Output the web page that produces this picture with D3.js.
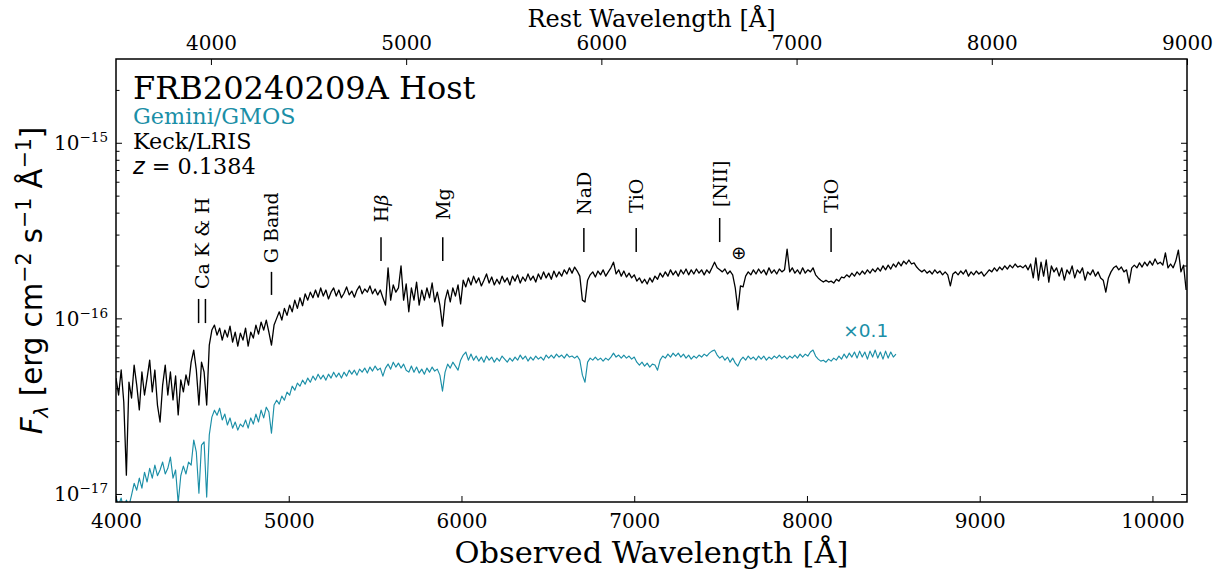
<!DOCTYPE html>
<html><head><meta charset="utf-8">
<script src="https://cdn.jsdelivr.net/npm/d3@7"></script>
<style>body{margin:0;background:#fff;} svg{display:block;}</style>
</head><body><svg id="chart" width="1219" height="570"></svg>
<script>
// ---------------- data ----------------
const z = 0.1384;
const keckStart = 4000, keckStep = 15;           // observed wavelength grid [Å]
// Keck/LRIS flux, units of 1e-17 erg cm^-2 s^-1 Å^-1
const keckFlux = [
4.57,3.66,5.08,3.34,1.28,4.34,3.52,5.42,4.17,3.01,
4.95,3.66,4.57,5.78,3.81,5.08,3.21,2.57,4.17,5.42,
3.66,4.95,3.43,4.70,2.82,4.46,3.81,4.76,4.17,5.63,
6.60,5.08,3.21,5.63,4.95,3.21,7.04,8.58,9.16,8.03,
8.80,7.52,8.58,7.82,9.04,7.33,8.35,6.95,8.24,7.52,
8.80,6.95,8.35,7.72,9.16,8.14,9.53,8.58,9.78,8.35,
7.04,9.16,10.0,10.9,9.78,11.4,10.4,11.9,10.9,12.7,
11.4,13.1,11.8,13.8,12.7,14.1,13.1,14.5,13.2,14.9,
13.4,14.5,12.9,14.1,14.9,13.4,14.5,13.1,13.9,15.1,
13.6,14.3,13.2,14.5,15.3,13.8,14.7,14.1,15.3,13.8,
14.7,13.6,14.5,13.1,11.9,19.4,12.7,15.5,14.1,14.9,
19.9,12.7,15.7,10.9,14.9,12.7,16.1,11.9,14.5,12.7,
14.9,13.1,15.9,12.4,14.1,11.9,9.04,12.7,14.5,12.4,
14.9,13.4,15.5,12.1,16.5,15.1,17.0,15.5,17.4,15.9,
17.0,15.3,16.5,17.9,15.9,17.2,15.5,16.7,15.7,17.4,
16.1,17.0,15.5,17.4,16.3,17.7,15.9,17.2,16.3,17.9,
16.5,17.4,16.1,17.9,16.7,18.4,17.0,18.1,16.7,18.6,
17.2,18.4,17.4,18.9,17.9,19.4,18.1,19.6,18.6,17.4,
12.7,12.4,16.5,17.7,18.4,17.2,18.6,17.7,18.9,17.4,
18.4,19.4,20.9,17.9,18.9,17.4,18.6,17.2,18.1,17.0,
17.7,16.3,17.0,15.9,16.7,15.7,17.0,16.1,17.4,16.7,
18.1,17.2,18.4,17.4,18.9,17.7,18.6,17.4,18.9,17.9,
19.1,17.7,18.9,17.9,19.1,18.1,18.9,17.7,18.9,18.1,
19.4,20.9,19.4,18.9,18.4,19.1,17.9,18.6,17.7,14.9,
11.2,15.3,15.1,17.4,18.4,17.7,18.9,17.9,19.1,18.1,
18.9,17.7,19.4,18.1,18.9,17.9,19.1,18.4,18.9,24.8,
18.4,19.4,18.1,18.9,17.9,19.4,18.1,18.9,18.4,19.4,
17.7,17.0,16.5,16.1,16.5,16.1,16.3,15.9,16.7,16.3,
17.2,17.0,17.7,17.2,18.1,17.4,18.4,17.7,18.6,17.9,
18.9,18.1,19.1,18.4,19.4,18.6,19.9,18.9,20.1,19.1,
20.4,19.6,20.9,19.9,21.2,20.4,21.5,20.4,20.7,19.6,
18.9,18.4,18.9,18.1,18.6,17.9,18.9,18.1,18.6,17.7,
18.4,17.7,15.3,17.9,18.4,17.7,18.6,17.9,18.9,17.4,
18.4,17.7,18.6,17.9,18.4,17.4,18.1,18.9,18.4,19.4,
18.6,19.6,18.9,19.9,19.1,20.1,19.4,20.4,19.6,19.9,
19.4,20.1,18.9,20.4,17.0,22.1,16.5,20.9,17.4,21.5,
16.1,19.9,18.4,19.4,17.4,19.4,16.5,18.9,17.9,19.9,
17.0,18.9,18.1,19.4,16.5,18.4,17.7,18.9,17.4,18.4,
17.0,16.5,14.1,17.0,18.4,19.4,19.9,18.9,19.6,18.4,
18.9,15.9,19.4,20.1,19.4,20.7,19.6,20.9,19.9,21.2,
20.1,21.8,20.4,20.9,20.1,23.6,19.4,20.4,19.4,21.2,
24.5,18.4,20.1,14.5
];
const gmosStart = 4000, gmosStep = 15;           // observed wavelength grid [Å]
// Gemini/GMOS flux, units of 1e-16 erg cm^-2 s^-1 Å^-1 (plotted x0.1)
const gmosFlux = [
0.960,0.865,0.948,0.810,0.923,0.853,0.986,1.15,1.05,1.23,
1.08,1.33,1.17,1.40,1.23,1.46,1.27,1.37,1.52,1.30,
1.40,1.62,1.23,1.37,0.888,1.27,1.44,1.30,1.52,1.46,
2.03,1.73,1.01,1.90,1.98,0.960,2.17,2.74,3.00,2.81,
3.08,2.64,2.85,2.47,2.71,2.37,2.57,2.31,2.50,2.41,
2.64,2.37,2.71,2.50,2.85,2.57,3.00,2.71,3.12,2.93,
2.22,3.21,3.42,3.25,3.61,3.42,3.80,3.65,4.11,3.90,
4.28,4.11,4.45,4.22,4.57,4.33,4.69,4.45,4.81,4.51,
4.75,4.45,4.81,4.57,4.94,4.63,4.88,4.57,4.94,4.69,
5.07,4.81,5.07,4.75,5.14,4.94,5.21,4.88,5.28,5.01,
5.35,5.07,5.21,4.69,5.21,5.49,5.14,5.63,5.28,5.56,
5.21,5.49,5.07,4.94,5.35,4.94,5.28,4.88,5.14,4.81,
5.21,4.94,5.28,5.01,5.14,4.75,3.85,4.94,5.49,5.21,
5.63,5.35,5.07,5.78,6.18,6.43,5.78,6.26,5.78,6.10,
5.71,6.02,5.63,6.10,5.78,6.02,5.63,5.94,5.71,6.10,
5.86,5.63,5.94,5.71,6.02,5.78,6.18,5.86,6.10,5.71,
6.02,5.78,6.10,5.86,6.02,5.78,6.18,5.94,6.18,5.94,
6.26,6.02,6.18,5.94,6.26,6.02,6.10,5.94,6.10,5.78,
4.75,4.33,5.63,5.94,5.78,6.02,5.78,5.94,5.71,5.94,
5.78,6.02,6.34,6.02,6.18,5.94,6.18,5.94,6.10,5.86,
6.02,5.63,5.42,5.63,5.35,5.56,5.28,5.49,5.42,5.07,
5.78,6.10,5.94,6.26,6.02,6.34,6.10,6.34,6.02,6.26,
5.94,6.18,5.86,6.10,5.94,6.18,6.02,6.26,6.10,6.34,
6.51,6.60,6.18,5.94,6.10,5.78,6.02,5.63,5.94,5.56,
5.35,5.78,6.02,5.78,6.10,5.86,6.02,5.78,6.10,5.86,
6.10,5.78,6.02,5.86,6.10,5.94,6.18,5.94,6.10,5.86,
6.10,5.94,6.18,5.94,6.26,6.02,6.26,6.10,6.43,6.60,
6.10,5.86,5.71,5.78,5.63,5.86,5.71,5.94,5.78,6.10,
5.86,6.26,5.94,6.34,6.02,6.43,5.94,6.51,6.02,6.43,
5.86,6.51,6.02,6.60,5.94,6.43,5.86,6.51,5.94,6.43,
6.02,6.26
];
const gmosScale = 0.1;

const obsTicks  = [4000, 5000, 6000, 7000, 8000, 9000, 10000];
const restTicks = [4000, 5000, 6000, 7000, 8000, 9000];
const yMajorTicks = [1e-17, 1e-16, 1e-15];
const yMajorExp   = ["−17", "−16", "−15"];
const yMinorTicks = [2e-17,3e-17,4e-17,5e-17,6e-17,7e-17,8e-17,9e-17,
                     2e-16,3e-16,4e-16,5e-16,6e-16,7e-16,8e-16,9e-16,2e-15];

// spectral features (rest-frame wavelengths, Å) and marker flux levels (1e-17 units)
const lineNames     = ["Ca K & H", "G Band", "Hβ", "Mg", "NaD", "TiO", "[NII]", "TiO"];
const lineRestWaves = [[3933.7, 3968.5], [4304.4], [4861.3], [5175.3], [5892.9], [6159], [6583.5], [7150]];
const lineMarkTop   = [12.9, 18.4, 29.0, 29.0, 32.7, 32.7, 37.3, 32.7];
const lineMarkBot   = [9.4, 13.6, 21.2, 21.2, 23.9, 23.9, 27.2, 23.9];
const lineLabelAt   = [14.7, 20.6, 35.3, 36.3, 38.8, 39.8, 43.0, 39.8];
const telluricObs = 7605, telluricFlux = 23.6;

// ---------------- chart ----------------
const W = 1219, H = 570;
const M = {left: 116, right: 32, top: 59, bottom: 68};
const x0 = M.left, x1 = W - M.right, y0 = M.top, y1 = H - M.bottom;
const SERIF = "'DejaVu Serif', serif", SANS = "'DejaVu Sans', sans-serif";
const TEAL = "#1b8fa7";
const svg = d3.select("#chart");

const x = d3.scaleLinear().domain([4000, 10200]).range([x0, x1]);
const xTop = d3.scaleLinear().domain([4000 / (1 + z), 9000]).range([x0, x1]);
const y = d3.scaleLog().domain([9e-18, 3e-15]).range([y1, y0]);

svg.append("defs").append("clipPath").attr("id", "plotclip")
  .append("rect").attr("x", x0).attr("y", y0).attr("width", x1 - x0).attr("height", y1 - y0);

const keck = keckFlux.map((f, i) => ({w: keckStart + i * keckStep, f: f * 1e-17}));
const gmos = gmosFlux.map((f, i) => ({w: gmosStart + i * gmosStep, f: f * 1e-16 * gmosScale}));
const lineGen = d3.line().x(d => x(d.w)).y(d => y(d.f));

const plot = svg.append("g").attr("clip-path", "url(#plotclip)");
plot.append("path").datum(gmos).attr("d", lineGen)
  .attr("fill", "none").attr("stroke", TEAL).attr("stroke-width", 1.15).attr("stroke-linejoin", "round");
plot.append("path").datum(keck).attr("d", lineGen)
  .attr("fill", "none").attr("stroke", "#000").attr("stroke-width", 1.3).attr("stroke-linejoin", "round");

// axes
function styleAxis(g) {
  g.select(".domain").remove();
  g.selectAll(".tick line").attr("stroke", "#000").attr("stroke-width", 1);
  g.selectAll(".tick text").attr("font-family", SERIF).attr("font-size", 20).attr("fill", "#000");
}
const gB = svg.append("g").attr("transform", `translate(0,${y1})`)
  .call(d3.axisBottom(x).tickValues(obsTicks).tickFormat(d3.format("d"))
    .tickSizeInner(-6).tickSizeOuter(0).tickPadding(12));
styleAxis(gB);
const gT = svg.append("g").attr("transform", `translate(0,${y0})`)
  .call(d3.axisTop(xTop).tickValues(restTicks).tickFormat(d3.format("d"))
    .tickSizeInner(-6).tickSizeOuter(0).tickPadding(9));
styleAxis(gT);

const yAll = yMajorTicks.concat(yMinorTicks);
const gL = svg.append("g").attr("transform", `translate(${x0},0)`)
  .call(d3.axisLeft(y).tickValues(yAll).tickFormat(() => "").tickSizeInner(-6).tickSizeOuter(0));
styleAxis(gL);
gL.selectAll(".tick").filter(d => yMinorTicks.includes(d)).select("line").attr("x2", 3.5);
const gR = svg.append("g").attr("transform", `translate(${x1},0)`)
  .call(d3.axisRight(y).tickValues(yAll).tickFormat(() => "").tickSizeInner(-6).tickSizeOuter(0));
styleAxis(gR);
gR.selectAll(".tick").filter(d => yMinorTicks.includes(d)).select("line").attr("x2", -3.5);

// major y tick labels 10^n
yMajorTicks.forEach((v, i) => {
  const t = svg.append("text").attr("x", x0 - 8).attr("y", y(v) + 7.3)
    .attr("text-anchor", "end").attr("font-family", SERIF).attr("font-size", 20).attr("fill", "#000");
  t.append("tspan").text("10");
  t.append("tspan").attr("dy", -8).attr("font-size", 13.5).text(yMajorExp[i]);
});

// frame
svg.append("rect").attr("x", x0).attr("y", y0).attr("width", x1 - x0).attr("height", y1 - y0)
  .attr("fill", "none").attr("stroke", "#000").attr("stroke-width", 1.5);

// axis titles
svg.append("text").attr("x", (x0 + x1) / 2).attr("y", 563).attr("text-anchor", "middle")
  .attr("font-family", SERIF).attr("font-size", 30.5).text("Observed Wavelength [Å]");
svg.append("text").attr("x", (x0 + x1) / 2).attr("y", 27).attr("text-anchor", "middle")
  .attr("font-family", SERIF).attr("font-size", 24).text("Rest Wavelength [Å]");

const yl = svg.append("text").attr("transform", `translate(42,${(y0 + y1) / 2}) rotate(-90)`)
  .attr("text-anchor", "middle").attr("font-family", SANS).attr("font-size", 29.3);
yl.append("tspan").attr("font-style", "italic").text("F");
yl.append("tspan").attr("dy", 6).attr("font-size", 20).attr("font-style", "italic").text("λ");
yl.append("tspan").attr("dy", -6).text(" [erg cm");
yl.append("tspan").attr("dy", -11.5).attr("font-size", 20.5).text("−2");
yl.append("tspan").attr("dy", 11.5).text(" s");
yl.append("tspan").attr("dy", -11.5).attr("font-size", 20.5).text("−1");
yl.append("tspan").attr("dy", 11.5).text(" Å");
yl.append("tspan").attr("dy", -11.5).attr("font-size", 20.5).text("−1");
yl.append("tspan").attr("dy", 11.5).text("]");

// in-plot annotations
svg.append("text").attr("x", 133).attr("y", 99).attr("font-family", SERIF).attr("font-size", 32)
  .text("FRB20240209A Host");
svg.append("text").attr("x", 133).attr("y", 124).attr("font-family", SERIF).attr("font-size", 22.3)
  .attr("fill", TEAL).text("Gemini/GMOS");
svg.append("text").attr("x", 133).attr("y", 149).attr("font-family", SERIF).attr("font-size", 22.3)
  .attr("fill", "#000").text("Keck/LRIS");
const zt = svg.append("text").attr("x", 133).attr("y", 174).attr("font-family", SERIF).attr("font-size", 22.3);
zt.append("tspan").attr("font-family", SANS).attr("font-style", "italic").text("z");
zt.append("tspan").text(" = 0.1384");

svg.append("text").attr("x", x(8210)).attr("y", y(7.8e-17)).attr("font-family", SANS).attr("font-size", 18.5)
  .attr("fill", TEAL).text("×0.1");

// line markers
const marks = svg.append("g");
lineNames.forEach((name, i) => {
  const waves = lineRestWaves[i].map(w => w * (1 + z));
  waves.forEach(w => {
    marks.append("line").attr("x1", x(w)).attr("x2", x(w))
      .attr("y1", y(lineMarkTop[i] * 1e-17)).attr("y2", y(lineMarkBot[i] * 1e-17))
      .attr("stroke", "#000").attr("stroke-width", 1.5);
  });
  const cx = x(d3.mean(waves)), cy = y(lineLabelAt[i] * 1e-17);
  const t = marks.append("text").attr("transform", `translate(${cx},${cy}) rotate(-90)`)
    .attr("dy", "0.36em").attr("font-family", SERIF).attr("font-size", 19);
  if (name === "Hβ") {
    t.append("tspan").text("H");
    t.append("tspan").attr("font-style", "italic").text("β");
  } else {
    t.text(name);
  }
});
marks.append("text").attr("x", x(telluricObs)).attr("y", y(telluricFlux * 1e-17))
  .attr("text-anchor", "middle").attr("dominant-baseline", "central")
  .attr("font-family", SANS).attr("font-size", 18).text("⊕");
</script>
</body></html>
